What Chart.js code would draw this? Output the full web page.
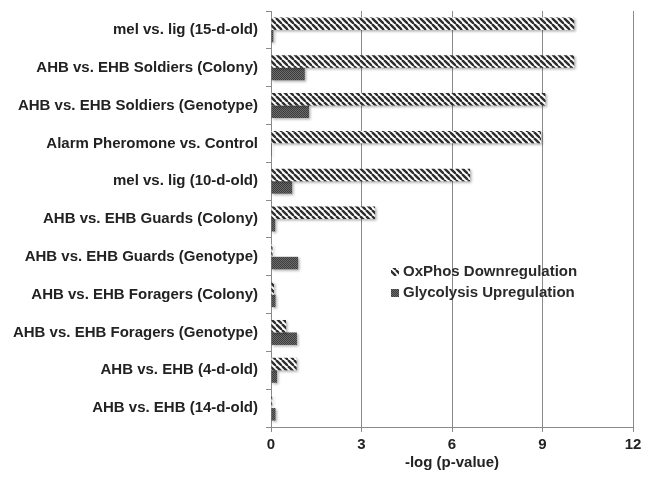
<!DOCTYPE html>
<html>
<head>
<meta charset="utf-8">
<script src="https://cdn.jsdelivr.net/npm/chart.js@4.4.1/dist/chart.umd.min.js"></script>
<style>
  html, body { margin: 0; padding: 0; background: #fff; }
  #wrap { width: 654px; height: 483px; position: relative; }
</style>
</head>
<body>
<div id="wrap"><canvas id="chart"></canvas></div>
<script>
// comparisons, top to bottom
const categories = [
    'mel vs. lig (15-d-old)',
    'AHB vs. EHB Soldiers (Colony)',
    'AHB vs. EHB Soldiers (Genotype)',
    'Alarm Pheromone vs. Control',
    'mel vs. lig (10-d-old)',
    'AHB vs. EHB Guards (Colony)',
    'AHB vs. EHB Guards (Genotype)',
    'AHB vs. EHB Foragers (Colony)',
    'AHB vs. EHB Foragers (Genotype)',
    'AHB vs. EHB (4-d-old)',
    'AHB vs. EHB (14-d-old)'
];
const seriesNames = ['OxPhos Downregulation', 'Glycolysis Upregulation'];
const oxphos     = [10.05, 10.05, 9.1, 8.95, 6.6, 3.45, 0.05, 0.1, 0.5, 0.85, 0.04];
const glycolysis = [0.08, 1.12, 1.26, 0.03, 0.7, 0.14, 0.9, 0.15, 0.86, 0.2, 0.15];
const xTicks = [0, 3, 6, 9, 12];
const xTitle = '-log (p-value)';

const FONT = "'Liberation Sans', Arial, sans-serif";

// hatch pattern (\\\) for oxphos
function stripePattern() {
    const c = document.createElement('canvas');
    c.width = 6; c.height = 6;
    const g = c.getContext('2d');
    g.fillStyle = '#fff';
    g.fillRect(0, 0, 6, 6);
    g.strokeStyle = '#2e2e2e';
    g.lineWidth = 2.4;
    for (let o of [-6, 0, 6]) {
        g.beginPath();
        g.moveTo(o, 0);
        g.lineTo(o + 6, 6);
        g.stroke();
    }
    return g.createPattern(c, 'repeat');
}

// dark checker for glycolysis
function checkerPattern() {
    const c = document.createElement('canvas');
    c.width = 2; c.height = 2;
    const g = c.getContext('2d');
    g.fillStyle = '#6c6c6c';
    g.fillRect(0, 0, 2, 2);
    g.fillStyle = '#3c3c3c';
    g.fillRect(0, 0, 1, 1);
    g.fillRect(1, 1, 1, 1);
    return g.createPattern(c, 'repeat');
}

const fills = [stripePattern(), checkerPattern()];

// soft shadow under bars
const shadowPlugin = {
    id: 'barShadow',
    beforeDatasetsDraw(chart) {
        const ctx = chart.ctx;
        ctx.save();
        ctx.shadowColor = 'rgba(0,0,0,0.3)';
        ctx.shadowOffsetX = 1.5;
        ctx.shadowOffsetY = 1.5;
        ctx.shadowBlur = 2;
    },
    afterDatasetsDraw(chart) {
        chart.ctx.restore();
    }
};

// legend inside the plot area
const innerLegend = {
    id: 'innerLegend',
    afterDraw(chart) {
        const ctx = chart.ctx;
        const x = 397, y0 = 272, gap = 21;
        ctx.save();
        ctx.font = 'bold 15px ' + FONT;
        ctx.textBaseline = 'middle';
        chart.data.datasets.forEach((ds, i) => {
            const y = y0 + i * gap;
            ctx.fillStyle = ds.backgroundColor;
            ctx.fillRect(x - 6, y - 4, 8, 8);
            ctx.fillStyle = '#2a2a2a';
            ctx.fillText(ds.label, x + 6, y);
        });
        ctx.restore();
    }
};

new Chart(document.getElementById('chart'), {
    type: 'bar',
    data: {
        labels: categories,
        datasets: [
            { label: seriesNames[0], data: oxphos, backgroundColor: fills[0] },
            { label: seriesNames[1], data: glycolysis, backgroundColor: fills[1] }
        ]
    },
    options: {
        indexAxis: 'y',
        responsive: true,
        maintainAspectRatio: false,
        animation: false,
        devicePixelRatio: 1,
        layout: { padding: { left: 0, right: 21, top: 11, bottom: 11 } },
        datasets: { bar: { categoryPercentage: 0.66, barPercentage: 1.0, borderWidth: 0 } },
        plugins: { legend: { display: false }, tooltip: { enabled: false } },
        scales: {
            x: {
                min: 0, max: 12,
                afterBuildTicks: (s) => { s.ticks = xTicks.map(v => ({ value: v })); },
                grid: { color: '#8a8a8a', lineWidth: 1, drawTicks: true, tickLength: 5, tickColor: '#8a8a8a' },
                border: { display: true, color: '#8a8a8a' },
                ticks: { color: '#222', padding: 4, font: { family: FONT, size: 15, weight: 'bold' } },
                title: {
                    display: true, text: xTitle, color: '#222',
                    padding: { top: 0, bottom: 0 },
                    font: { family: FONT, size: 15, weight: 'bold' }
                },
                afterFit: (s) => { s.height = 45; s.paddingLeft = 0; s.paddingRight = 0; }
            },
            y: {
                grid: { drawOnChartArea: false, drawTicks: true, tickLength: 5, color: '#8a8a8a', offset: true },
                border: { display: true, color: '#8a8a8a' },
                ticks: { color: '#222', padding: 8, font: { family: FONT, size: 15, weight: 'bold' } },
                afterFit: (s) => { s.width = 271; s.paddingTop = 0; s.paddingBottom = 0; }
            }
        }
    },
    plugins: [shadowPlugin, innerLegend]
});
</script>
</body>
</html>
